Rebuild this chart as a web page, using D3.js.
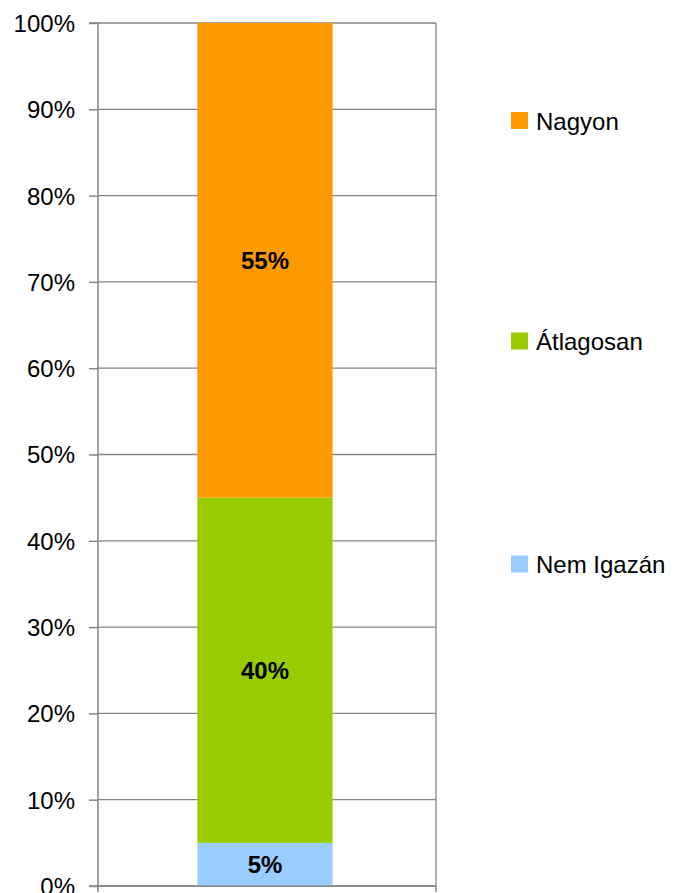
<!DOCTYPE html>
<html><head><meta charset="utf-8">
<script src="https://cdn.jsdelivr.net/npm/d3@7"></script>
<style>body{margin:0;background:#fff}</style>
</head><body>
<svg id="c" width="678" height="893"></svg>
<script>
const series = ["Nem Igazán","Átlagosan","Nagyon"];
const values = [5, 40, 55];
const colors = ["#99CCFF","#99CC00","#FF9900"];
const yTicks = [0,10,20,30,40,50,60,70,80,90,100];
const legendY = [564, 341, 120.5];

const svg = d3.select("#c");
const font = "'Liberation Sans', Arial, sans-serif";
const L = 98, R = 436, T = 23, B = 886;
const y = d3.scaleLinear().domain([0,100]).range([B,T]);
const x = d3.scaleBand().domain(["a"]).range([L,R]).paddingInner(0).paddingOuter(0.75).align(0.49);

// gridlines
svg.append("g").selectAll("line").data(yTicks).join("line")
  .attr("x1",L).attr("x2",R).attr("y1",d=>y(d)).attr("y2",d=>y(d))
  .attr("stroke","#868686").attr("stroke-width",1.3);
// right border
svg.append("line").attr("x1",R).attr("x2",R).attr("y1",T).attr("y2",B).attr("stroke","#868686").attr("stroke-width",1.3);

// bars
let cum = 0;
const stacks = values.map((v,i)=>{const s={v,y0:cum,y1:cum+v,c:colors[i]};cum+=v;return s;});
svg.append("g").selectAll("rect").data(stacks).join("rect")
  .attr("x",x("a")).attr("width",x.bandwidth())
  .attr("y",d=>y(d.y1)).attr("height",d=>y(d.y0)-y(d.y1))
  .attr("fill",d=>d.c);
svg.append("g").selectAll("text").data(stacks).join("text")
  .attr("x",x("a")+x.bandwidth()/2).attr("y",d=>y((d.y0+d.y1)/2)+8.5)
  .attr("text-anchor","middle").attr("font-family",font).attr("font-weight","bold")
  .attr("font-size",24).attr("fill","#000").text(d=>d.v+"%");

// y axis
const ya = d3.axisLeft(y).tickValues(yTicks).tickFormat(d=>d+"%").tickSize(9).tickPadding(14);
const yg = svg.append("g").attr("transform",`translate(${L},0)`).call(ya);
yg.selectAll("path,line").attr("stroke","#868686").attr("stroke-width",1.5);
yg.select(".domain").attr("d",`M-9,${T}H0V${B}H-9`);
yg.selectAll("text").attr("font-family",font).attr("font-size",24).attr("fill","#000").attr("dy","0.35em");

// x axis
svg.append("line").attr("x1",L).attr("x2",R).attr("y1",B).attr("y2",B).attr("stroke","#868686").attr("stroke-width",1.5);
svg.append("g").selectAll("line").data([L,R]).join("line")
  .attr("x1",d=>d).attr("x2",d=>d).attr("y1",B).attr("y2",B+6).attr("stroke","#868686").attr("stroke-width",1.5);

// legend
const lg = svg.append("g").selectAll("g").data(series).join("g")
  .attr("transform",(d,i)=>`translate(511,${legendY[i]})`);
lg.append("rect").attr("x",0).attr("y",-8.5).attr("width",17).attr("height",17).attr("fill",(d,i)=>colors[i]);
lg.append("text").attr("x",25).attr("y",9).attr("font-family",font).attr("font-size",24).attr("fill","#000").text(d=>d);
</script>
</body></html>
